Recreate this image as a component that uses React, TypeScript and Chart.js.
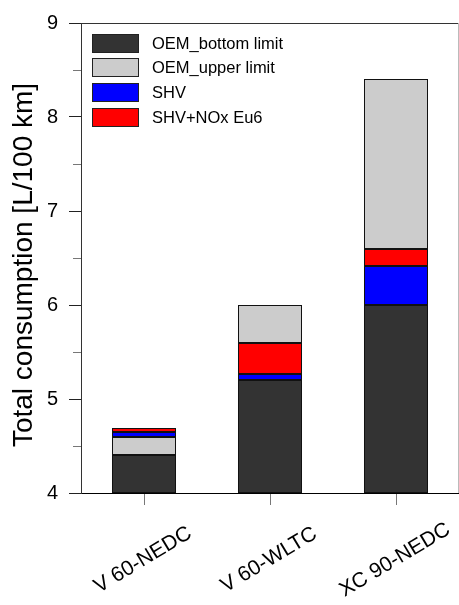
import React, { useEffect, useRef } from "react";
import { Chart, registerables } from "chart.js";

Chart.register(...registerables);

const categories = ["V 60-NEDC", "V 60-WLTC", "XC 90-NEDC"];
const oemBottom = [4.4, 5.2, 6.0];
const oemUpper = [4.6, 6.0, 8.4];
const shv = [4.65, 5.27, 6.42];
const shvNox = [4.69, 5.6, 6.6];
const seriesLabels = ["OEM_bottom limit", "OEM_upper limit", "SHV", "SHV+NOx Eu6"];
const seriesColors = ["#333333", "#cccccc", "#0000ff", "#ff0000"];
const yMin = 4;
const yMax = 9;
const yTitle = "Total consumption [L/100 km]";

const FONT = "'Liberation Sans', Arial, Helvetica, sans-serif";

const allSeries = [oemBottom, oemUpper, shv, shvNox];

// Each series is drawn as the visible part of an overlapping bar: from the next smaller value to its own value.
function segmentsFor(s: number): [number, number][] {
  return categories.map((_, i) => {
    const v = allSeries[s][i];
    let lo = yMin;
    allSeries.forEach((ser) => {
      const o = ser[i];
      if (o < v && o > lo) lo = o;
    });
    return [lo, v];
  });
}

const decorPlugin = {
  id: "decor",
  afterDatasetsDraw(chart: any) {
    const { ctx } = chart;
    ctx.save();
    ctx.strokeStyle = "#111";
    ctx.lineWidth = 1;
    chart.data.datasets.forEach((_: any, di: number) => {
      const meta = chart.getDatasetMeta(di);
      meta.data.forEach((el: any) => {
        const l = Math.round(el.x - el.width / 2) + 0.5;
        const r = Math.round(el.x + el.width / 2) - 0.5;
        const t = Math.round(Math.min(el.y, el.base)) + 0.5;
        const b = Math.round(Math.max(el.y, el.base)) - 0.5;
        ctx.strokeRect(l, t, r - l, b - t);
      });
    });
    ctx.restore();
  },
  afterDraw(chart: any) {
    const { ctx, chartArea, scales } = chart;
    const { left, right, top, bottom } = chartArea;
    const ys = scales.y;
    const xs = scales.x;
    ctx.save();
    // frame top and right
    ctx.lineWidth = 1;
    ctx.strokeStyle = "#333";
    ctx.beginPath();
    ctx.moveTo(left, Math.round(top) + 0.5);
    ctx.lineTo(right, Math.round(top) + 0.5);
    ctx.stroke();
    ctx.strokeStyle = "#bbbbbb";
    ctx.beginPath();
    ctx.moveTo(Math.round(right) - 0.5, top);
    ctx.lineTo(Math.round(right) - 0.5, bottom);
    ctx.stroke();
    // minor ticks
    ctx.strokeStyle = "#777";
    for (let v = yMin + 0.5; v < yMax; v += 1) {
      const py = Math.round(ys.getPixelForValue(v)) + 0.5;
      ctx.beginPath();
      ctx.moveTo(left - 8, py);
      ctx.lineTo(left, py);
      ctx.stroke();
    }
    // y title
    ctx.fillStyle = "#000";
    ctx.font = `28px ${FONT}`;
    ctx.textAlign = "center";
    ctx.textBaseline = "middle";
    ctx.save();
    ctx.translate(24, (top + bottom) / 2 + 7);
    ctx.rotate(-Math.PI / 2);
    ctx.fillText(yTitle, 0, 0);
    ctx.restore();
    // x labels, rotated and centred on ticks
    ctx.font = `21px ${FONT}`;
    categories.forEach((c, i) => {
      const px = xs.getPixelForValue(i);
      ctx.save();
      ctx.translate(px - 1, bottom + 67);
      ctx.rotate((-31 * Math.PI) / 180);
      ctx.fillText(c, 0, 0);
      ctx.restore();
    });
    // legend
    ctx.font = `16.5px ${FONT}`;
    ctx.textAlign = "left";
    const bx = left + 11;
    const by = top + 10.5;
    const bw = 47;
    const bh = 19;
    const step = 24.8;
    seriesLabels.forEach((lab, i) => {
      const y0 = Math.round(by + i * step);
      ctx.fillStyle = seriesColors[i];
      ctx.fillRect(bx, y0, bw, bh);
      ctx.strokeStyle = "#222";
      ctx.lineWidth = 1;
      ctx.strokeRect(bx + 0.5, y0 + 0.5, bw - 1, bh - 1);
      ctx.fillStyle = "#000";
      ctx.fillText(lab, bx + 60, y0 + bh / 2 + 1);
    });
    ctx.restore();
  },
};

export default function App() {
  const ref = useRef<HTMLCanvasElement | null>(null);
  useEffect(() => {
    if (!ref.current) return;
    const chart = new Chart(ref.current, {
      type: "bar",
      data: {
        labels: categories,
        datasets: seriesLabels.map((lab, s) => ({
          label: lab,
          data: segmentsFor(s) as any,
          backgroundColor: seriesColors[s],
          borderWidth: 0,
          grouped: false,
          barPercentage: 0.508,
          categoryPercentage: 1,
        })),
      },
      options: {
        responsive: false,
        animation: false,
        layout: { padding: { top: 19, left: 0, right: 0, bottom: 0 } },
        plugins: { legend: { display: false }, tooltip: { enabled: false } },
        scales: {
          x: {
            type: "category",
            offset: true,
            ticks: { display: false },
            grid: {
              offset: false,
              drawOnChartArea: false,
              drawTicks: true,
              tickLength: 12,
              tickColor: "#777",
            },
            border: { color: "#000", width: 1 },
            afterFit: (s: any) => {
              s.height = 112;
            },
          },
          y: {
            min: yMin,
            max: yMax,
            ticks: {
              stepSize: 0.5,
              padding: 11,
              color: "#000",
              font: { family: FONT, size: 20 },
              callback: (v: any) => (Number.isInteger(v) ? String(v) : ""),
            },
            grid: {
              drawOnChartArea: false,
              tickLength: 12,
              tickColor: (c: any) =>
                c.tick && Number.isInteger(c.tick.value) ? "#222" : "rgba(0,0,0,0)",
            },
            border: { color: "#333", width: 1 },
            afterFit: (s: any) => {
              s.width = 81;
            },
          },
        },
      },
      plugins: [decorPlugin],
    });
    return () => chart.destroy();
  }, []);
  return (
    <div style={{ position: "absolute", left: 0, top: 0, width: 459, height: 605 }}>
      <canvas ref={ref} width={459} height={605} style={{ display: "block" }} />
    </div>
  );
}
